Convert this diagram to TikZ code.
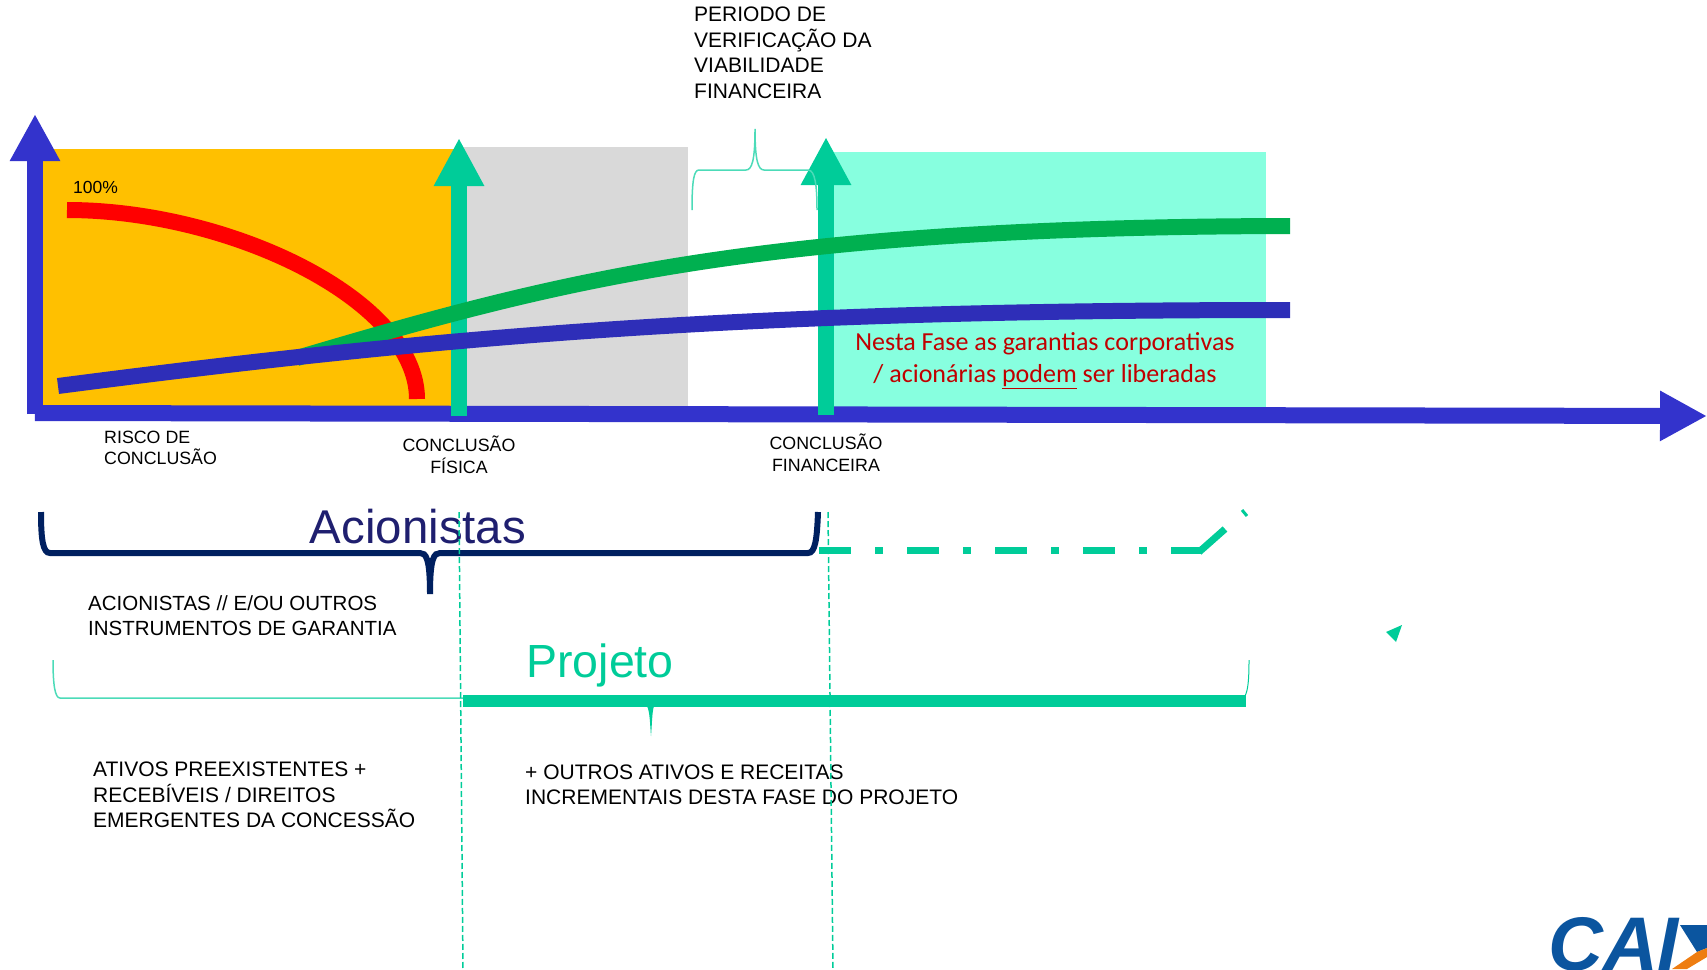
\documentclass[tikz,border=0pt]{standalone}
\usepackage{fontspec}
\setmainfont{Liberation Sans}
\newfontfamily\calibrifont{Carlito}
\usetikzlibrary{arrows.meta}
\definecolor{axisblue}{HTML}{3333CC}
\definecolor{curveblue}{HTML}{2E2EB8}
\definecolor{riskorange}{HTML}{FFC000}
\definecolor{phasegray}{HTML}{D9D9D9}
\definecolor{phaseaqua}{HTML}{87FFDF}
\definecolor{projgreen}{HTML}{00CC99}
\definecolor{curvegreen}{HTML}{00B050}
\definecolor{bracenavy}{HTML}{002060}
\definecolor{titlenavy}{HTML}{1F1F6F}
\definecolor{noteRed}{HTML}{C00000}
\definecolor{logoblue}{HTML}{0B559F}
\definecolor{logoorange}{HTML}{EE7D11}
\tikzset{>=stealth,
  bigaxis/.style={axisblue, line width=16pt, -{Triangle[length=47pt,width=47pt]}},
  milestone/.style={projgreen, line width=16pt, -{Triangle[length=48pt,width=47pt]}},
  curveline/.style={line width=16pt},
  thinbrace/.style={projgreen!70!white, line width=1.5pt},
  guide/.style={projgreen, line width=1.5pt, dash pattern=on 6pt off 3pt},
  txt/.style={inner sep=0pt, anchor=west, align=left, font=\fontsize{21}{25.5}\selectfont},
  smalltxt/.style={inner sep=0pt, align=center, font=\fontsize{17.8}{21.5}\selectfont}}
\begin{document}
\begin{tikzpicture}[x=1pt, y=-1pt]
\useasboundingbox (0,0) rectangle (1707,969);
\clip (0,0) rectangle (1707,969);
\fill[riskorange] (42,149) rectangle (459,406);
\fill[phasegray] (459,147) rectangle (688,406);
\fill[phaseaqua] (826,152) rectangle (1266,408);
\coordinate (origin) at (35,414);
\coordinate (ytip) at (35,114);
\coordinate (xstart) at (27,413);
\coordinate (xtip) at (1707,416);
\coordinate (fisbase) at (459,416);
\coordinate (fistip) at (459,138);
\coordinate (finbase) at (826,415);
\coordinate (fintip) at (826,137);
\draw[bigaxis] (origin) -- (ytip);
\draw[bigaxis] ([xshift=8pt]xstart) -- (xtip);
\draw[milestone] (fisbase) -- (fistip);
\draw[milestone] (finbase) -- (fintip);
\draw[curveline, red] (67,210) .. controls (230,210) and (417,300) .. (417,399);
\draw[curveline, curvegreen] (297,358) .. controls (560,280) and (760,227) .. (1290,226);
\draw[curveline, curveblue] (58,386) .. controls (450,335) and (750,310) .. (1290,310);
\node[txt] (periodo) at (694,53) {PERIODO DE\\VERIFICAÇÃO DA\\VIABILIDADE\\FINANCEIRA};
\draw[thinbrace] (692,210) .. controls (692,180) and (694,170) .. (699,170) -- (746,170) .. controls (752,170) and (755,160) .. (755,129) .. controls (755,160) and (758,170) .. (764,170) -- (808,170) .. controls (815,170) and (817,185) .. (817,210);
\node[inner sep=0pt, anchor=west, font=\fontsize{17.5}{21}\selectfont] (cem) at (73,187) {100\%};
\node[smalltxt, anchor=west, align=left] (risco) at (104,448) {RISCO DE\\CONCLUSÃO};
\node[smalltxt] (fisica) at (459,455) {CONCLUSÃO\\ FÍSICA};
\node[smalltxt] (financeira) at (826,453) {CONCLUSÃO\\FINANCEIRA};
\node[inner sep=0pt, align=center, text=noteRed, font=\calibrifont\fontsize{26}{32}\selectfont] (nesta) at (1045,361) {Nesta Fase as garantias corporativas\\/ acionárias \underline{podem} ser liberadas};
\node[inner sep=0pt, text=titlenavy, font=\fontsize{47.4}{50}\selectfont] (acionistas) at (418,527) {Acionistas};
\draw[bracenavy, line width=6pt] (41,512) .. controls (41,540) and (43,553) .. (50,553) -- (420,553) .. controls (426,553) and (430,558) .. (430,594) .. controls (430,558) and (434,553) .. (440,553) -- (808,553) .. controls (815,553) and (817,540) .. (818,512);
\draw[projgreen, line width=7pt, dash pattern=on 32pt off 24pt on 8pt off 24pt] (819,550) -- (1201,550);
\draw[projgreen, line width=7pt] (1199,552) -- (1225,529);
\draw[projgreen, line width=3pt] (1242,510) -- (1247,516);
\fill[projgreen] (1386,632) -- (1402,625) -- (1396,642) -- cycle;
\node[txt, font=\fontsize{20.5}{25}\selectfont] (garantia) at (88,616) {ACIONISTAS // E/OU OUTROS\\INSTRUMENTOS DE GARANTIA};
\node[inner sep=0pt, text=projgreen, font=\fontsize{46.5}{50}\selectfont] (projeto) at (600,665) {Projeto};
\draw[thinbrace] (53,660) .. controls (53,685) and (55,698) .. (60,698) -- (464,698);
\draw[projgreen, line width=12pt] (463,701) -- (1246,701);
\draw[projgreen, line width=1pt] (1245,696) .. controls (1248,690) and (1249,680) .. (1249,660);
\fill[projgreen] (647,706) .. controls (650,712) and (650,725) .. (651,736) .. controls (652,725) and (652,712) .. (654,706) -- cycle;
\node[txt] (ativos) at (93,795) {ATIVOS PREEXISTENTES +\\RECEBÍVEIS / DIREITOS\\EMERGENTES  DA CONCESSÃO};
\node[txt] (outros) at (525,785) {+ OUTROS ATIVOS E RECEITAS\\INCREMENTAIS DESTA FASE DO PROJETO};
\coordinate (guideAtop) at (459,512);
\coordinate (guideAend) at (463,969);
\coordinate (guideBtop) at (828,512);
\coordinate (guideBend) at (833,969);
\draw[guide] (guideAtop) -- (guideAend);
\draw[guide] (guideBtop) -- (guideBend);
\node[inner sep=0pt, anchor=north west, text=logoblue, font=\fontsize{76}{76}\selectfont\bfseries\itshape] (caixa) at (1548,917) {CAI};
\fill[logoblue] (1680,925) -- (1707,925) -- (1707,948) -- (1697,952) -- cycle;
\fill[logoorange] (1697,952) -- (1707,948) -- (1707,957) -- (1687,969) -- (1672,969) -- cycle;
\end{tikzpicture}
\end{document}
